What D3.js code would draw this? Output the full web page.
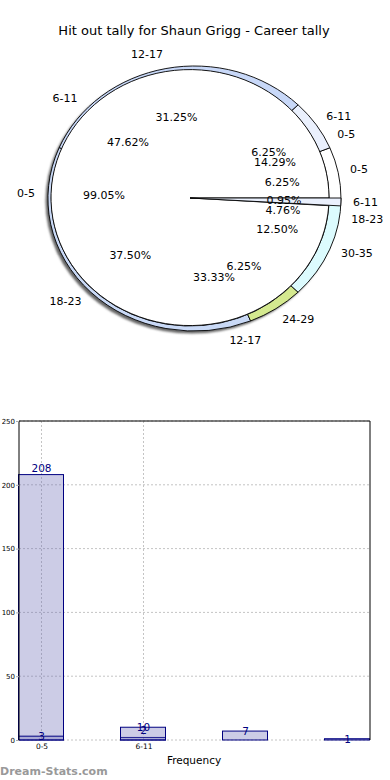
<!DOCTYPE html>
<html>
<head>
<meta charset="utf-8">
<script src="https://cdn.jsdelivr.net/npm/d3@7"></script>
<style>
  body { margin: 0; background: #fff; }
  svg { display: block; font-family: "DejaVu Sans", Verdana, sans-serif; }
</style>
</head>
<body>
<div id="chart"></div>
<script>
// data
var title = "Hit out tally for Shaun Grigg - Career tally";
var ageGroups = ["0-5", "6-11", "12-17", "18-23", "24-29", "30-35"];
var seriesA = [208, 2];          // 0-5, 6-11
var seriesB = [3, 10, 7, 1];     // 0-5 .. 18-23
var seriesC = [1, 1, 5, 6, 1, 2];// 0-5 .. 30-35
var barCategories = ["0-5", "6-11", "12-17", "18-23"];
var xTickLabels = ["0-5", "6-11"];
var yTicks = [0, 50, 100, 150, 200, 250];

var sliceColors = ["#ffffff", "#eaf0fd", "#c8d8f8", "#c9d9f6", "#d4e98f", "#dcfbfe"];

var W = 390, H = 780;
var svg = d3.select("#chart").append("svg").attr("width", W).attr("height", H);

svg.append("text")
  .attr("x", 194).attr("y", 35)
  .attr("text-anchor", "middle")
  .style("font-size", "13px")
  .text(title);

// ---------- pies ----------
var defs = svg.append("defs");
defs.append("filter").attr("id", "blur")
  .append("feGaussianBlur").attr("stdDeviation", 1.2);

var outer = {cx: 194.5, cy: 198.5, rx: 146.5, ry: 132.5};
var inner = {cx: 190, cy: 198, rx: 139, ry: 128};

svg.append("ellipse")
  .attr("cx", outer.cx - 2.5).attr("cy", outer.cy + 2.5)
  .attr("rx", outer.rx).attr("ry", outer.ry)
  .attr("fill", "#666")
  .attr("filter", "url(#blur)");

var pie = d3.pie().sort(null)
  .startAngle(Math.PI / 2)
  .endAngle(Math.PI / 2 - 2 * Math.PI);

var unitArc = d3.arc().innerRadius(0).outerRadius(1);

function drawPie(values, geo, thinGeo) {
  var total = d3.sum(values);
  var g = svg.append("g");
  pie(values).forEach(function(d, i) {
    var gg = (thinGeo && d.value / total < 0.02) ? thinGeo : geo;
    g.append("path")
      .attr("d", unitArc(d))
      .attr("transform", "translate(" + gg.cx + "," + gg.cy + ") scale(" + gg.rx + "," + gg.ry + ")")
      .attr("fill", sliceColors[i])
      .attr("stroke", "#000")
      .attr("stroke-width", 0.9)
      .attr("vector-effect", "non-scaling-stroke");
  });
}

drawPie(seriesC, outer);
drawPie(seriesB, inner);
drawPie(seriesA, inner, {cx: 190, cy: 198, rx: 151, ry: 132});

// labels
var labelG = svg.append("g").style("font-size", "11px").attr("fill", "#000");
function pieLabels(values) {
  var total = d3.sum(values);
  pie(values).forEach(function(d, i) {
    var m = (d.startAngle + d.endAngle) / 2;
    var s = Math.sin(m), c = Math.cos(m);
    labelG.append("text")
      .attr("x", 194 + 90 * s).attr("y", 198 - 82 * c)
      .attr("text-anchor", "middle")
      .attr("dominant-baseline", "central")
      .text((d.value / total * 100).toFixed(2) + "%");
    labelG.append("text")
      .attr("x", 194 + 159 * s).attr("y", 198 - 146 * c)
      .attr("text-anchor", s >= 0 ? "start" : "end")
      .attr("dominant-baseline", "central")
      .text(ageGroups[i]);
  });
}
pieLabels(seriesC);
pieLabels(seriesB);
pieLabels(seriesA);

// ---------- bars ----------
var plot = {left: 19, right: 370, top: 421, bottom: 740};
var y = d3.scaleLinear().domain([0, 250]).range([plot.bottom, plot.top]);
var x = d3.scalePoint().domain(barCategories).range([41.5, 347.5]);
var barW = 45;

var grid = svg.append("g").attr("stroke", "#c4c4c4").attr("stroke-dasharray", "2,2");
yTicks.forEach(function(t) {
  grid.append("line")
    .attr("x1", plot.left).attr("x2", plot.right)
    .attr("y1", y(t)).attr("y2", y(t));
});
xTickLabels.forEach(function(c) {
  grid.append("line")
    .attr("x1", x(c)).attr("x2", x(c))
    .attr("y1", plot.top).attr("y2", plot.bottom);
});

function drawBars(values) {
  values.forEach(function(v, i) {
    var c = barCategories[i];
    svg.append("rect")
      .attr("x", x(c) - barW / 2 - 0.5).attr("y", y(v))
      .attr("width", barW).attr("height", plot.bottom - y(v))
      .attr("fill", "#6464b4").attr("fill-opacity", 0.33)
      .attr("stroke", "#000080").attr("stroke-width", 1);
  });
}
drawBars(seriesA);
drawBars(seriesB);

function barLabels(values, lift) {
  values.forEach(function(v, i) {
    svg.append("text")
      .attr("x", x(barCategories[i])).attr("y", y(v) - lift)
      .attr("text-anchor", "middle")
      .attr("dominant-baseline", "central")
      .attr("fill", "#000080")
      .style("font-size", "10.5px")
      .text(v);
  });
}
barLabels(seriesA, 7);
barLabels(seriesB, 0);

// frame
svg.append("path")
  .attr("d", "M" + plot.left + "," + plot.bottom + "V" + plot.top + "H" + plot.right + "V" + plot.bottom)
  .attr("fill", "none").attr("stroke", "#000").attr("stroke-width", 1);

var yAxis = d3.axisLeft(y).tickValues(yTicks).tickSize(3).tickPadding(1);
var ya = svg.append("g").attr("transform", "translate(" + plot.left + ",0)").call(yAxis);
ya.select(".domain").remove();
ya.selectAll("line").attr("stroke", "#aaa");
ya.selectAll("text").style("font-size", "7px").style("font-family", "DejaVu Sans");

var xAxis = d3.axisBottom(x).tickValues(xTickLabels).tickSize(0).tickPadding(4);
var xa = svg.append("g").attr("transform", "translate(0," + plot.bottom + ")").call(xAxis);
xa.select(".domain").remove();
xa.selectAll("text").style("font-size", "7.5px").style("font-family", "DejaVu Sans");

svg.append("text")
  .attr("x", 194).attr("y", 764)
  .attr("text-anchor", "middle")
  .style("font-size", "10.5px")
  .text("Frequency");

svg.append("text")
  .attr("x", 0).attr("y", 775)
  .attr("fill", "#999")
  .style("font-size", "11px").style("font-weight", "bold")
  .text("Dream-Stats.com");
</script>
</body>
</html>
